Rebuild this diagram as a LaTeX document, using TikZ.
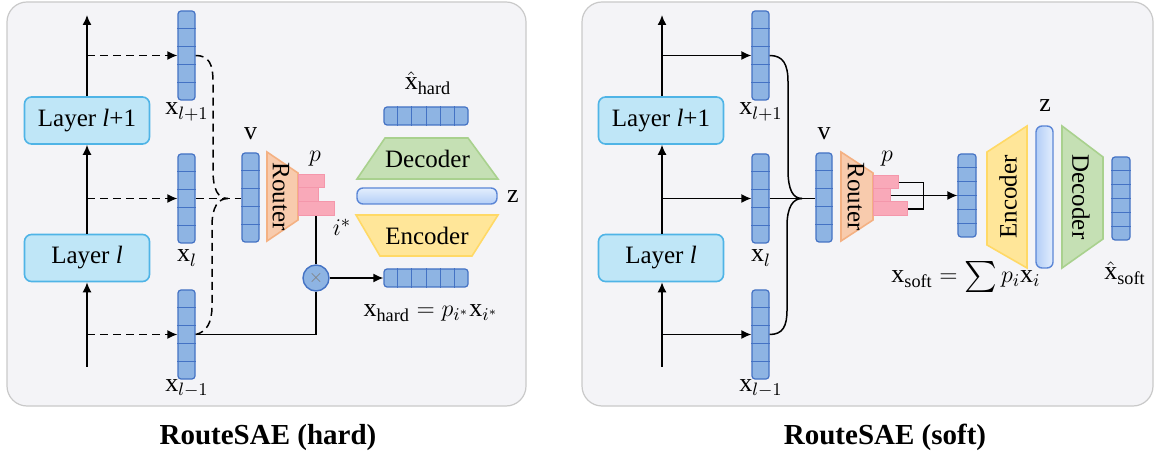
\documentclass[tikz,border=0pt]{standalone}
\usepackage{fontspec}
\setmainfont{Liberation Serif}
\usetikzlibrary{calc,fit,arrows.meta}
\definecolor{panelfill}{HTML}{F4F4F7}
\definecolor{panelline}{HTML}{C9C9C9}
\definecolor{layerfill}{HTML}{BFE6F7}
\definecolor{layerline}{HTML}{4FB4E6}
\definecolor{cellfill}{HTML}{8EB4E3}
\definecolor{cellline}{HTML}{4472C4}
\definecolor{routerfill}{HTML}{F8CBAD}
\definecolor{routerline}{HTML}{F4B183}
\definecolor{barfill}{HTML}{F9A9B9}
\definecolor{barline}{HTML}{F497AB}
\definecolor{decfill}{HTML}{C5E0B4}
\definecolor{decline}{HTML}{A9D18E}
\definecolor{encfill}{HTML}{FFE699}
\definecolor{encline}{HTML}{FFD966}
\definecolor{zline}{HTML}{5B86D6}
\definecolor{zdark}{HTML}{B3CEF7}
\definecolor{zlight}{HTML}{E3EEFD}
\newcommand{\vcells}[6]{%
  \node[vecbox, fit={(#2,#3) (#4,#5)}] (#1) {};
  \pgfmathtruncatemacro{\cellsm}{#6-1}%
  \foreach \k in {1,...,\cellsm}{\draw[vecdiv] ($(#1.north west)!\k/#6!(#1.south west)$) -- ($(#1.north east)!\k/#6!(#1.south east)$);}%
}
\newcommand{\hcells}[6]{%
  \node[vecbox, fit={(#2,#3) (#4,#5)}] (#1) {};
  \pgfmathtruncatemacro{\cellsm}{#6-1}%
  \foreach \k in {1,...,\cellsm}{\draw[vecdiv] ($(#1.north west)!\k/#6!(#1.north east)$) -- ($(#1.south west)!\k/#6!(#1.south east)$);}%
}
\newcommand{\bigsum}{\mathop{\vcenter{\hbox{\scalebox{1.55}{$\sum$}}}}}
\begin{document}
\begin{tikzpicture}[x=0.5pt,y=-0.5pt,
  panel/.style={draw=panelline, fill=panelfill, line width=0.6pt, rounded corners=10pt},
  layer/.style={draw=layerline, fill=layerfill, line width=0.8pt, rounded corners=3.5pt, inner sep=0pt,
     minimum width=62.5pt, minimum height=23.5pt, font=\fontsize{12.5}{15}\selectfont},
  vecbox/.style={draw=cellline, fill=cellfill, line width=0.6pt, rounded corners=1.5pt, inner sep=0pt},
  vecdiv/.style={draw=cellline, line width=0.5pt},
  barbox/.style={draw=barline, fill=barfill, line width=0.5pt, inner sep=0pt},
  router/.style={draw=routerline, fill=routerfill, line width=0.8pt},
  dec/.style={draw=decline, fill=decfill, line width=0.8pt},
  enc/.style={draw=encline, fill=encfill, line width=0.8pt},
  zbar/.style={draw=zline, line width=0.7pt, rounded corners=3pt},
  flow/.style={line width=0.75pt, -{Latex[length=5pt,width=4.5pt]}},
  dflow/.style={flow, dash pattern=on 4pt off 2.5pt},
  link/.style={line width=0.75pt},
  dlink/.style={link, dash pattern=on 4pt off 2.5pt},
  lbl/.style={font=\fontsize{13}{15}\selectfont, inner sep=0pt, anchor=base},
  blk/.style={font=\fontsize{12.5}{15}\selectfont, inner sep=0pt},
  title/.style={font=\fontsize{14.5}{17}\selectfont\bfseries, inner sep=0pt, anchor=base}]
\useasboundingbox (0,0) rectangle (1159,453);
% ---------------- panels
\draw[panel] (7,2) rectangle (526,406);
\draw[panel] (582,2) rectangle (1153,406);
\node[title] (th) at (268,444) {RouteSAE (hard)};
\node[title] (ts) at (885,444) {RouteSAE (soft)};
% ================= HARD =================
\node[layer] (Lh1) at (87,120.5) {Layer \textit{l}+1};
\node[layer] (Lh0) at (87,258) {Layer \textit{l}};
\coordinate (hbot) at (87,367);
\coordinate (htop) at (87,15);
\draw[flow] (hbot) -- (Lh0.south);
\draw[flow] (Lh0.north) -- (Lh1.south);
\draw[flow] (Lh1.north) -- (htop);
\vcells{xh1}{178}{11}{195}{100}{5}
\vcells{xh0}{178}{154}{195}{243}{5}
\vcells{xhm}{178}{290}{195}{379}{5}
\draw[dflow] (xh1.west -| htop) -- (xh1.west);
\draw[dflow] (xh0.west -| htop) -- (xh0.west);
\draw[dflow] (xhm.west -| htop) -- (xhm.west);
\node[lbl] (lxh1) at (187,115) {$\mathrm{x}_{l+1}$};
\node[lbl] (lxh0) at (187,262) {$\mathrm{x}_{l}$};
\node[lbl] (lxhm) at (187,391) {$\mathrm{x}_{l-1}$};
\vcells{vh}{242}{153}{259}{242}{5}
\node[lbl] (lvh) at (250.5,140) {$\mathrm{v}$};
\coordinate (hj) at (228,198.5);
\draw[dlink] (xh1.east) .. controls (209,55.5) and (213,64) .. (213,82) -- (213,170) .. controls (213,190) and (218,198.5) .. (hj);
\draw[dlink] (xhm.east) .. controls (207,332) and (212,322) .. (212,306) -- (212,226) .. controls (212,207) and (218,198.5) .. (hj);
\draw[dlink] (xh0.east) -- (xh0.east -| vh.west);
\draw[router] (267,152) -- (298,173) -- (298,220) -- (267,241) -- cycle;
\node[blk, rotate=-90] (rth) at (281,196.5) {Router};
\node[barbox, fit={(298,175) (324,188)}] (hb1) {};
\node[barbox, fit={(298,188) (318,202)}] (hb2) {};
\node[barbox, fit={(298,202) (334,216)}] (hb3) {};
\node[lbl] (lph) at (315,162) {$p$};
\node[lbl] (lih) at (342,236) {$i^{*}$};
\node[circle, draw=cellline, fill=cellfill, line width=0.7pt, minimum size=13pt, inner sep=0pt,
  text=black!50, font=\fontsize{9}{10}\selectfont] (mul) at (316,278) {$\times$};
\draw[link] (hb3.south -| mul) -- (mul.north);
\draw[link] (mul.south) |- (xhm.east);
\hcells{xhard}{384}{269}{468}{287}{6}
\draw[flow] (mul.east) -- (xhard.west);
\hcells{xhath}{384}{107}{468}{125}{6}
\node[lbl] (lxhath) at (428,90) {$\hat{\mathrm{x}}_{\mathrm{hard}}$};
\draw[dec] (385,138) -- (468,138) -- (498,179) -- (357,179) -- cycle;
\node[blk] (dech) at (427.5,159) {Decoder};
\shade[zbar, top color=zlight, bottom color=zdark] (357,188) rectangle (497,204);
\node[lbl] (lzh) at (513,203) {$\mathrm{z}$};
\draw[enc] (356,215) -- (498,215) -- (472,256) -- (380,256) -- cycle;
\node[blk] (ench) at (427,236) {Encoder};
\node[lbl] (lxhard) at (431,317) {$\mathrm{x}_{\mathrm{hard}}=p_{i^{*}}\mathrm{x}_{i^{*}}$};
% ================= SOFT =================
\node[layer] (Ls1) at (661,120.5) {Layer \textit{l}+1};
\node[layer] (Ls0) at (661,258) {Layer \textit{l}};
\coordinate (sbot) at (662,367);
\coordinate (stop) at (662,15);
\draw[flow] (sbot) -- (sbot |- Ls0.south);
\draw[flow] (sbot |- Ls0.north) -- (sbot |- Ls1.south);
\draw[flow] (sbot |- Ls1.north) -- (stop);
\vcells{xs1}{752}{11}{769}{100}{5}
\vcells{xs0}{752}{154}{769}{243}{5}
\vcells{xsm}{752}{290}{769}{379}{5}
\draw[flow] (xs1.west -| stop) -- (xs1.west);
\draw[flow] (xs0.west -| stop) -- (xs0.west);
\draw[flow] (xsm.west -| stop) -- (xsm.west);
\node[lbl] (lxs1) at (761,115) {$\mathrm{x}_{l+1}$};
\node[lbl] (lxs0) at (761,262) {$\mathrm{x}_{l}$};
\node[lbl] (lxsm) at (761,391) {$\mathrm{x}_{l-1}$};
\vcells{vs}{816}{153}{832}{242}{5}
\node[lbl] (lvs) at (824,140) {$\mathrm{v}$};
\coordinate (sj) at (802,198.5);
\draw[link] (xs1.east) .. controls (783,55.5) and (788,64) .. (788,82) -- (788,170) .. controls (788,190) and (793,198.5) .. (sj);
\draw[link] (xsm.east) .. controls (783,334.5) and (787,326) .. (787,310) -- (787,226) .. controls (787,207) and (793,198.5) .. (sj);
\draw[link] (xs0.east) -- (xs0.east -| vs.west);
\draw[router] (841,152) -- (873,173) -- (873,220) -- (841,241) -- cycle;
\node[blk, rotate=-90] (rts) at (856,196.5) {Router};
\node[barbox, fit={(873,176) (898,189)}] (sb1) {};
\node[barbox, fit={(873,189) (890,202)}] (sb2) {};
\node[barbox, fit={(873,202) (907,216)}] (sb3) {};
\node[lbl] (lps) at (887,162) {$p$};
\draw[link] (sb1.east) -- ++(25,0) |- (sb3.east);
\vcells{xin}{958}{154}{976}{237}{6}
\draw[flow] (sb2.east) -- (sb2.east -| xin.west);
\node[lbl] (lxsoft) at (966,283) {$\mathrm{x}_{\mathrm{soft}}=\bigsum p_{i}\mathrm{x}_{i}$};
\draw[enc] (987,152) -- (1027,126) -- (1027,268) -- (987,245) -- cycle;
\node[blk, rotate=90] (encs) at (1008,197) {Encoder};
\shade[zbar, left color=zdark, right color=zlight] (1036,126) rectangle (1053,268);
\node[lbl] (lzs) at (1045,112) {$\mathrm{z}$};
\draw[dec] (1062,126) -- (1103,157) -- (1103,239) -- (1062,268) -- cycle;
\node[blk, rotate=-90] (decs) at (1081,197) {Decoder};
\vcells{xout}{1112}{157}{1130}{240}{6}
\node[lbl] (lxhats) at (1125,280) {$\hat{\mathrm{x}}_{\mathrm{soft}}$};
\end{tikzpicture}
\end{document}
